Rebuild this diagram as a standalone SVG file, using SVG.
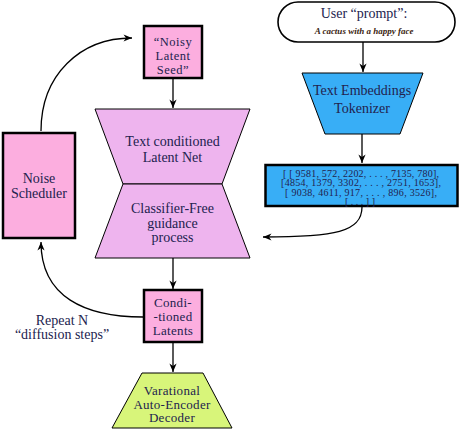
<svg xmlns="http://www.w3.org/2000/svg" width="461" height="430" viewBox="0 0 461 430">
<defs>
<marker id="arr" viewBox="-9 -5 10 10" refX="0" refY="0" markerWidth="10" markerHeight="10" markerUnits="userSpaceOnUse" orient="auto">
<path d="M0,0 L-8.5,-3.6 L-6,0 L-8.5,3.6 Z" fill="#000"/>
</marker>
<style>
text{font-family:"Liberation Serif","Times New Roman",serif;font-size:14px;fill:#22224e;text-anchor:middle}
.sm{font-size:13px;letter-spacing:0.3px}
.xs{font-size:12.5px;letter-spacing:0.5px}
.pink{fill:#fcaedf;stroke:#000;stroke-width:2.5}
.violet{fill:#eeb4ee;stroke:#000;stroke-width:1}
.blue{fill:#38aef6;stroke:#000}
.lime{fill:#d8f57a;stroke:#000;stroke-width:1}
.conn{fill:none;stroke:#000;stroke-width:1.3;marker-end:url(#arr)}
.tok{font-size:10px}
</style>
</defs>
<rect width="461" height="430" fill="#fff"/>
<g id="connectors">
<path class="conn" d="M173,79 L173,108"/>
<path class="conn" d="M173,258 L173,289"/>
<path class="conn" d="M173,343 L173,372"/>
<path class="conn" d="M363,42 L363,72"/>
<path class="conn" d="M362,134 L362,163"/>
<path class="conn" d="M362,207 C362,232 335,237 263,237"/>
<path class="conn" d="M143,317 C85,317 41,297 41,242"/>
<path class="conn" d="M41,131 C41,75 80,38 132,38"/>
</g>
<g id="prompt">
<rect x="278" y="2" width="177" height="40" rx="20" ry="20" fill="#fff" stroke="#000" stroke-width="1.6"/>
<text x="364" y="18">User “prompt”:</text>
<text x="364" y="34" style="font-size:9px;font-style:italic;font-weight:bold;fill:#3a2410">A cactus with a happy face</text>
</g>
<g id="tokenizer">
<polygon class="blue" points="302,73 423,73 400,134 325,134" stroke-width="1"/>
<text x="362" y="95">Text Embeddings</text>
<text x="362" y="113">Tokenizer</text>
</g>
<g id="tokens">
<rect class="blue" x="265.5" y="165" width="192" height="41" stroke-width="2.5"/>
<text class="tok" x="361" y="176.5" textLength="156" lengthAdjust="spacing">[ [ 9581, 572, 2202, . . . , 7135, 780],</text>
<text class="tok" x="361" y="186" textLength="160" lengthAdjust="spacing">[4854, 1379, 3302, . . . , 2751, 1653],</text>
<text class="tok" x="361" y="195.5" textLength="152" lengthAdjust="spacing">[ 9038, 4611, 917, . . . , 896, 3526],</text>
<text class="tok" x="360" y="205" textLength="30" lengthAdjust="spacing">[ . . . ] ]</text>
</g>
<g id="noisy-seed">
<rect class="pink" x="144" y="26" width="58" height="52"/>
<text class="xs" x="173" y="45.5">“Noisy</text>
<text class="xs" x="173" y="59.5">Latent</text>
<text class="xs" x="173" y="73.5">Seed”</text>
</g>
<g id="latent-net">
<polygon class="violet" points="95,109 250,109 222,184 123,184"/>
<text x="172.5" y="146">Text conditioned</text>
<text x="172.5" y="162">Latent Net</text>
</g>
<g id="cfg">
<polygon class="violet" points="123,184 222,184 250,258 95,258"/>
<text x="172.5" y="213">Classifier-Free</text>
<text x="172.5" y="228">guidance</text>
<text x="172.5" y="242">process</text>
</g>
<g id="noise-scheduler">
<rect class="pink" x="3" y="133" width="72" height="105" stroke-width="4"/>
<text x="39" y="183">Noise</text>
<text x="39" y="198">Scheduler</text>
</g>
<g id="conditioned">
<rect class="pink" x="144" y="290" width="58" height="52"/>
<text class="sm" x="173" y="307">Condi-</text>
<text class="sm" x="173" y="321">-tioned</text>
<text class="sm" x="173" y="335">Latents</text>
</g>
<g id="repeat-label">
<text x="62" y="325">Repeat N</text>
<text x="62" y="339">“diffusion steps”</text>
</g>
<g id="vae">
<polygon class="lime" points="142,373 203,373 232,428 112,428"/>
<text class="sm" x="172" y="395">Varational</text>
<text class="sm" x="172" y="408.5">Auto-Encoder</text>
<text class="sm" x="172" y="422">Decoder</text>
</g>
</svg>
